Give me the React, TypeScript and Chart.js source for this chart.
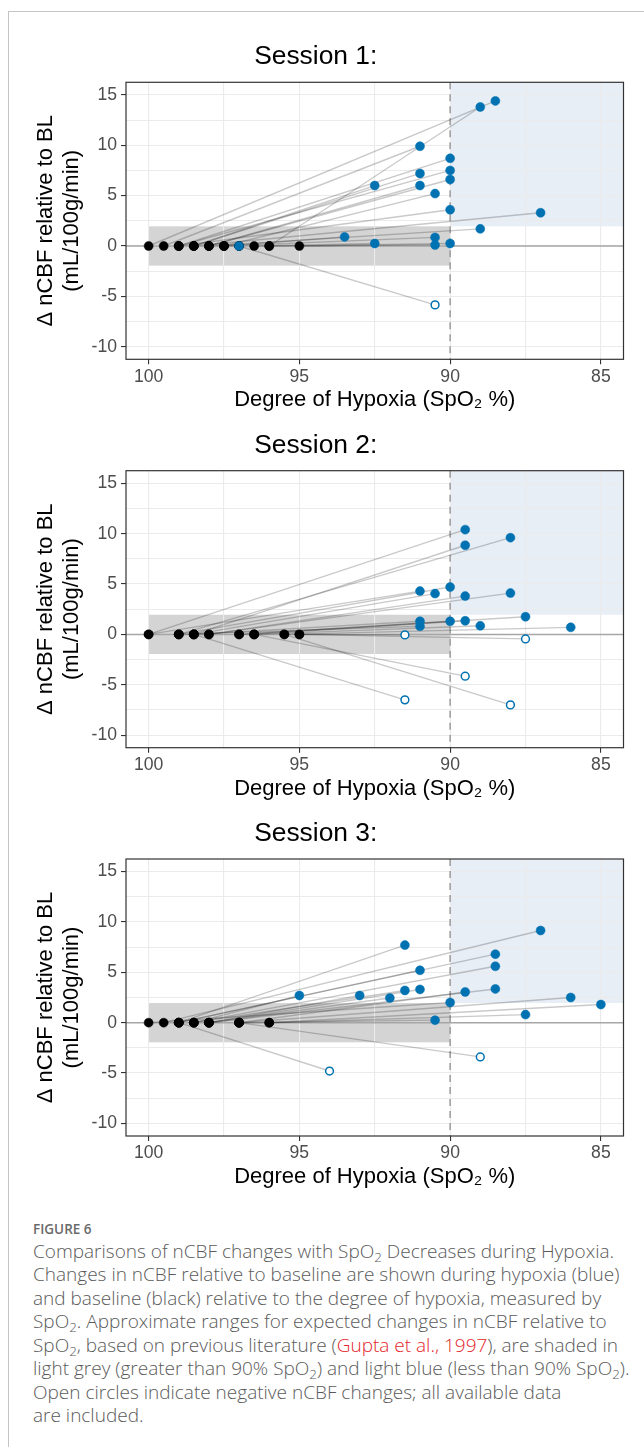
import React, { useEffect, useRef } from 'react';
import { Chart, registerables } from 'chart.js';

Chart.register(...registerables);

const FONT = "'Liberation Sans', Arial, Helvetica, sans-serif";

// Axis ticks and ranges
const X_TICKS = [100, 97.5, 95, 92.5, 90, 87.5, 85];
const X_TICK_LABELS = [100, 95, 90, 85];
const Y_TICKS = [15, 12.5, 10, 7.5, 5, 2.5, 0, -2.5, -5, -7.5, -10];
const Y_TICK_LABELS = [15, 10, 5, 0, -5, -10];
const X_RANGE = [84.25, 100.75];
const Y_RANGE = [-11.25, 16.25];

// Expected-change regions (Gupta et al., 1997)
const GREY_BAND_X = [100, 90];
const GREY_BAND_Y = [-1.95, 1.95];
const BLUE_ZONE_X = 90;
const BLUE_ZONE_Y = 1.95;
const SPO2_CUTOFF = 90;

const SESSION_TITLES = ['Session 1:', 'Session 2:', 'Session 3:'];

// Session 1: baseline SpO2, hypoxia SpO2, delta nCBF
const S1_BASE = [100, 96, 99.5, 99, 99, 98.5, 98, 98.5, 98, 97.5, 99, 98.5, 98, 97.5, 97.5, 96.5, 96, 95, 97, 97];
const S1_HYPO = [88.5, 89, 91, 90, 90, 91, 90, 92.5, 91, 90.5, 90, 87, 89, 93.5, 90.5, 92.5, 90.5, 90, 97, 90.5];
const S1_DELTA = [14.4, 13.8, 9.9, 8.7, 7.5, 7.2, 6.6, 6.0, 6.0, 5.2, 3.6, 3.3, 1.7, 0.9, 0.85, 0.25, 0.1, 0.25, 0.0, -5.85];

// Session 2
const S2_BASE = [100, 98.5, 99, 100, 98.5, 99, 98, 98, 97, 98.5, 99, 97, 96.5, 96.5, 95.5, 95, 95, 96.5, 98.5, 95.5];
const S2_HYPO = [89.5, 89.5, 88, 91, 90.5, 90, 89.5, 88, 87.5, 91, 91, 90, 89.5, 89, 86, 91.5, 87.5, 89.5, 91.5, 88];
const S2_DELTA = [10.4, 8.85, 9.6, 4.3, 4.05, 4.7, 3.8, 4.1, 1.75, 1.3, 0.8, 1.3, 1.35, 0.85, 0.7, -0.05, -0.45, -4.15, -6.5, -7.0];

// Session 3
const S3_BASE = [99, 99.5, 99, 98.5, 99, 98.5, 98, 98, 98.5, 98, 97, 100, 98, 97, 96, 96, 97, 99, 97];
const S3_HYPO = [91.5, 87, 88.5, 88.5, 91, 95, 93, 92, 91.5, 91, 89.5, 90, 88.5, 86, 85, 87.5, 90.5, 94, 89];
const S3_DELTA = [7.7, 9.15, 6.8, 5.6, 5.2, 2.7, 2.7, 2.45, 3.2, 3.3, 3.05, 2.0, 3.35, 2.5, 1.8, 0.8, 0.25, -4.8, -3.4];

const SESSIONS = [
  { base: S1_BASE, hypo: S1_HYPO, delta: S1_DELTA },
  { base: S2_BASE, hypo: S2_HYPO, delta: S2_DELTA },
  { base: S3_BASE, hypo: S3_HYPO, delta: S3_DELTA },
];

const BLUE = '#0072B2';
const PLOT_TOPS = [82.3, 470.7, 859];
const PLOT_H = 277;
const XSCALE_H = 54;
const CANVAS_W = 636;

const decorPlugin = {
  id: 'decor',
  beforeDraw(chart: any) {
    const { ctx, chartArea: a, scales } = chart;
    const x = scales.x, y = scales.y;
    ctx.save();
    ctx.beginPath();
    ctx.rect(a.left, a.top, a.right - a.left, a.bottom - a.top);
    ctx.clip();
    const bx = x.getPixelForValue(BLUE_ZONE_X);
    const by = y.getPixelForValue(BLUE_ZONE_Y);
    ctx.fillStyle = '#e8eef6';
    ctx.fillRect(bx, a.top, a.right - bx, by - a.top);
    const gx1 = x.getPixelForValue(GREY_BAND_X[0]);
    const gx2 = x.getPixelForValue(GREY_BAND_X[1]);
    const gy1 = y.getPixelForValue(GREY_BAND_Y[1]);
    const gy2 = y.getPixelForValue(GREY_BAND_Y[0]);
    ctx.fillStyle = '#d4d4d4';
    ctx.fillRect(gx1, gy1, gx2 - gx1, gy2 - gy1);
    ctx.restore();
  },
  beforeDatasetsDraw(chart: any) {
    const { ctx, chartArea: a, scales } = chart;
    const x = scales.x, y = scales.y;
    ctx.save();
    ctx.strokeStyle = '#a6a6a6';
    ctx.lineWidth = 1.5;
    const y0 = y.getPixelForValue(0);
    ctx.beginPath();
    ctx.moveTo(a.left, y0);
    ctx.lineTo(a.right, y0);
    ctx.stroke();
    const xv = x.getPixelForValue(SPO2_CUTOFF);
    ctx.setLineDash([7, 5]);
    ctx.strokeStyle = '#a0a0a0';
    ctx.lineWidth = 1.6;
    ctx.beginPath();
    ctx.moveTo(xv, a.top);
    ctx.lineTo(xv, a.bottom);
    ctx.stroke();
    ctx.restore();
  },
  afterDraw(chart: any) {
    const { ctx, chartArea: a } = chart;
    ctx.save();
    ctx.strokeStyle = '#333333';
    ctx.lineWidth = 1.2;
    ctx.strokeRect(a.left, a.top, a.right - a.left, a.bottom - a.top);
    ctx.restore();
  },
};

function Panel({ index }: { index: number }) {
  const ref = useRef<HTMLCanvasElement>(null);
  const T = PLOT_TOPS[index];
  const C = Math.floor(T - 52.3);
  const offset = T - C;
  const H = Math.ceil(offset + PLOT_H + XSCALE_H + 1);

  useEffect(() => {
    const s = SESSIONS[index];
    const lineSets = s.base.map((b, i) => ({
      data: [{ x: b, y: 0 }, { x: s.hypo[i], y: s.delta[i] }],
      showLine: true,
      pointRadius: 0,
      borderColor: 'rgba(0,0,0,0.21)',
      borderWidth: 1.4,
      order: 3,
    }));
    const baseSet = {
      data: s.base.map((b) => ({ x: b, y: 0 })),
      pointRadius: 4.5,
      pointBackgroundColor: '#000',
      pointBorderColor: '#000',
      pointBorderWidth: 0.5,
      order: 2,
    };
    const hypoSet = {
      data: s.hypo.map((h, i) => ({ x: h, y: s.delta[i] })),
      pointRadius: (c: any) => (c.raw && c.raw.y < 0 ? 3.9 : 4.5),
      pointBackgroundColor: (c: any) => (c.raw && c.raw.y < 0 ? '#ffffff' : BLUE),
      pointBorderColor: BLUE,
      pointBorderWidth: (c: any) => (c.raw && c.raw.y < 0 ? 1.5 : 0.5),
      order: 1,
    };
    const titlePadTop = offset - 25.4 - 15.84;
    const titlePadBottom = offset - titlePadTop - 31.68;
    const chart = new Chart(ref.current as HTMLCanvasElement, {
      type: 'scatter',
      data: { datasets: [...lineSets, baseSet, hypoSet] as any },
      plugins: [decorPlugin],
      options: {
        animation: false,
        responsive: false,
        events: [],
        layout: { padding: { top: 0, left: 0, right: 20.5, bottom: H - offset - PLOT_H - XSCALE_H } },
        plugins: {
          legend: { display: false },
          tooltip: { enabled: false },
          title: {
            display: true,
            text: SESSION_TITLES[index],
            color: '#000',
            font: { family: FONT, size: 26.4, weight: 'normal', lineHeight: 1.2 },
            padding: { top: titlePadTop, bottom: titlePadBottom },
          },
        },
        scales: {
          x: {
            type: 'linear',
            reverse: true,
            min: X_RANGE[0],
            max: X_RANGE[1],
            afterBuildTicks: (sc: any) => {
              sc.ticks = X_TICKS.map((v) => ({ value: v }));
            },
            afterFit: (sc: any) => {
              sc.height = XSCALE_H;
            },
            ticks: {
              autoSkip: false,
              maxRotation: 0,
              padding: 2,
              color: '#4d4d4d',
              font: { family: FONT, size: 17.6 },
              callback: (v: any) => (X_TICK_LABELS.includes(Number(v)) ? String(v) : ''),
            },
            grid: {
              color: '#ebebeb',
              lineWidth: 1.1,
              tickLength: 5,
              tickWidth: 1.1,
              tickColor: (c: any) => (c.tick && X_TICK_LABELS.includes(c.tick.value) ? '#333' : 'rgba(0,0,0,0)'),
            },
            border: { display: false },
            title: {
              display: true,
              text: 'Degree of Hypoxia (SpO₂ %)',
              color: '#000',
              font: { family: FONT, size: 22, lineHeight: 1.2 },
              padding: { top: 0, bottom: 0 },
            },
          },
          y: {
            type: 'linear',
            min: Y_RANGE[0],
            max: Y_RANGE[1],
            afterBuildTicks: (sc: any) => {
              sc.ticks = Y_TICKS.map((v) => ({ value: v }));
            },
            afterFit: (sc: any) => {
              sc.width = 118;
            },
            ticks: {
              autoSkip: false,
              padding: 4,
              color: '#4d4d4d',
              font: { family: FONT, size: 17.6 },
              callback: (v: any) => (Y_TICK_LABELS.includes(Number(v)) ? String(v) : ''),
            },
            grid: {
              color: '#ebebeb',
              lineWidth: 1.1,
              tickLength: 5,
              tickWidth: 1.1,
              tickColor: (c: any) => (c.tick && Y_TICK_LABELS.includes(c.tick.value) ? '#333' : 'rgba(0,0,0,0)'),
            },
            border: { display: false },
            title: {
              display: true,
              text: ['Δ nCBF relative to BL', '(mL/100g/min)'],
              color: '#000',
              font: { family: FONT, size: 22, lineHeight: 1.17 },
              padding: { top: 24.9, bottom: 0 },
            },
          },
        },
      } as any,
    });
    return () => chart.destroy();
  }, []);

  return (
    <canvas
      ref={ref}
      width={CANVAS_W}
      height={H}
      style={{ position: 'absolute', left: 8, top: C, width: CANVAS_W, height: H }}
    />
  );
}

const Sub = () => (
  <sub style={{ fontSize: '0.7em', verticalAlign: '-0.3em', lineHeight: 0 }}>2</sub>
);

export default function App() {
  return (
    <div
      style={{
        position: 'fixed',
        left: 0,
        top: 0,
        width: 644,
        height: 1447,
        overflow: 'hidden',
        background: '#fff',
      }}
    >
      <div
        style={{
          position: 'absolute',
          left: 8,
          top: 11,
          width: 800,
          height: 2000,
          borderLeft: '1px solid #c4c4c4',
          borderTop: '1px solid #c4c4c4',
        }}
      />
      <Panel index={0} />
      <Panel index={1} />
      <Panel index={2} />
      <div
        style={{
          position: 'absolute',
          left: 33,
          top: 1219,
          fontFamily: "'Open Sans', 'Noto Sans', sans-serif",
          color: '#5a5a5a',
          whiteSpace: 'nowrap',
        }}
      >
        <div style={{ fontSize: 13.5, fontWeight: 600, lineHeight: '20px', color: '#6a6a6a' }}>FIGURE 6</div>
        <div style={{ fontSize: 19, fontWeight: 300, lineHeight: '23.45px', marginTop: 1 }}>
          Comparisons of nCBF changes with SpO<Sub /> Decreases during Hypoxia.
          <br />
          Changes in nCBF relative to baseline are shown during hypoxia (blue)
          <br />
          and baseline (black) relative to the degree of hypoxia, measured by
          <br />
          SpO<Sub />. Approximate ranges for expected changes in nCBF relative to
          <br />
          SpO<Sub />, based on previous literature (<span style={{ color: '#e3262b' }}>Gupta et al., 1997</span>), are shaded in
          <br />
          light grey (greater than 90% SpO<Sub />) and light blue (less than 90% SpO<Sub />).
          <br />
          Open circles indicate negative nCBF changes; all available data
          <br />
          are included.
        </div>
      </div>
    </div>
  );
}
